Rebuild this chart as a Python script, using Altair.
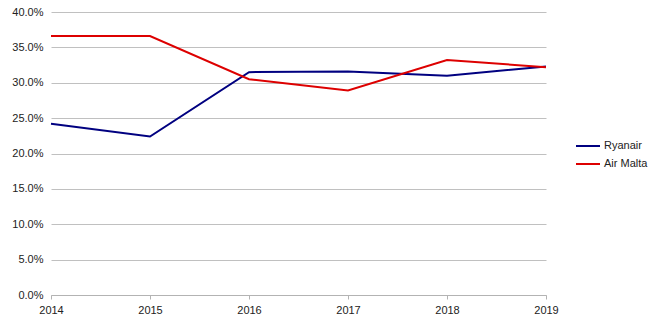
import altair as alt
import pandas as pd

years = [2014, 2015, 2016, 2017, 2018, 2019]
ryanair = [24.2, 22.4, 31.5, 31.6, 31.0, 32.3]
air_malta = [36.6, 36.6, 30.5, 28.9, 33.2, 32.2]
series_names = ["Ryanair", "Air Malta"]
series_colors = ["#000080", "#dd0000"]
y_ticks = [0, 0.05, 0.10, 0.15, 0.20, 0.25, 0.30, 0.35, 0.40]

rows = []
for y, v in zip(years, ryanair):
    rows.append({"year": y, "value": v / 100, "series": "Ryanair"})
for y, v in zip(years, air_malta):
    rows.append({"year": y, "value": v / 100, "series": "Air Malta"})
df = pd.DataFrame(rows)

font = "Liberation Sans"

chart = alt.Chart(df).mark_line(strokeWidth=2).encode(
    x=alt.X("year:Q",
            scale=alt.Scale(domain=[2014, 2019], nice=False, zero=False),
            axis=alt.Axis(values=years, format="d", title=None, grid=False,
                          domainColor="#b3b3b3", tickColor="#b3b3b3", tickSize=4,
                          labelFontSize=11, labelColor="#222222", labelFont=font,
                          labelPadding=5, labelFlush=False)),
    y=alt.Y("value:Q",
            scale=alt.Scale(domain=[0, 0.4], nice=False),
            axis=alt.Axis(values=y_ticks, format=".1%", title=None, domain=False,
                          ticks=False, gridColor="#c0c0c0", labelFontSize=11,
                          labelColor="#222222", labelFont=font, labelPadding=8)),
    color=alt.Color("series:N",
                    scale=alt.Scale(domain=series_names, range=series_colors),
                    sort=series_names,
                    legend=alt.Legend(title=None, orient="none", legendX=524, legendY=121,
                                      symbolType="stroke", symbolSize=576, symbolStrokeWidth=2,
                                      labelFontSize=11, labelFont=font, labelColor="#222222",
                                      rowPadding=0, labelOffset=3)),
).properties(
    width=495, height=283,
    padding={"left": 51, "top": 12, "right": 105, "bottom": 28},
    autosize=alt.AutoSizeParams(type="none"),
).configure_view(stroke=None)

chart.save("out.html", embed_options={"renderer": "svg", "actions": False})
